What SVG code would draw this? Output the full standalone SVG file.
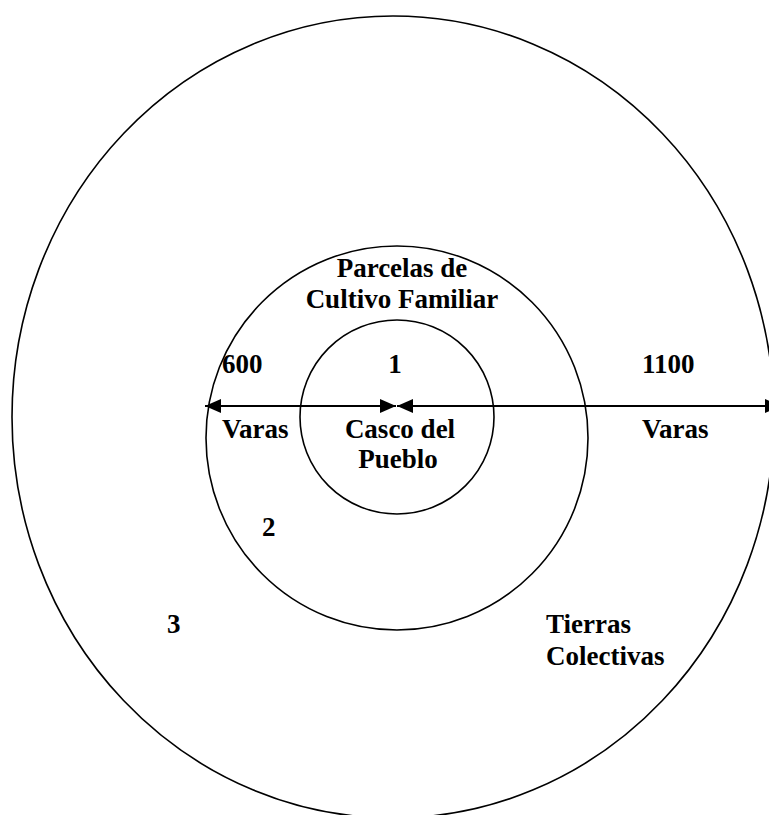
<svg xmlns="http://www.w3.org/2000/svg" width="769" height="815" viewBox="0 0 769 815">
<style>
.ring{fill:none;stroke:#000;stroke-width:1.6}
.t{font-family:"Liberation Serif","Times New Roman",serif;font-weight:bold;font-size:27px;fill:#000}
.c{text-anchor:middle}
.conn{stroke:#000;stroke-width:2;fill:none}
</style>
<defs>
<marker id="ah" viewBox="0 0 16 14" refX="16" refY="7" markerWidth="16" markerHeight="14" markerUnits="userSpaceOnUse" orient="auto-start-reverse">
<path d="M0,0 L16,7 L0,14 Z" fill="#000"/>
</marker>
</defs>
<g id="zone3">
<ellipse class="ring" cx="393" cy="417" rx="381" ry="401"/>
<text class="t" x="167" y="633">3</text>
<text class="t" x="546" y="633">Tierras</text>
<text class="t" x="546" y="665">Colectivas</text>
</g>
<g id="zone2">
<ellipse class="ring" cx="397" cy="438" rx="191" ry="192"/>
<text class="t c" x="402" y="277">Parcelas de</text>
<text class="t c" x="402" y="308">Cultivo Familiar</text>
<text class="t" x="262" y="536">2</text>
</g>
<g id="zone1">
<circle class="ring" cx="397" cy="417" r="97"/>
<text class="t c" x="395" y="373">1</text>
<text class="t c" x="400" y="438">Casco del</text>
<text class="t c" x="398" y="468">Pueblo</text>
</g>
<g id="connectors">
<line class="conn" x1="205" y1="406" x2="396" y2="406" marker-start="url(#ah)" marker-end="url(#ah)"/>
<line class="conn" x1="397" y1="406" x2="781" y2="406" marker-start="url(#ah)" marker-end="url(#ah)"/>
</g>
<g id="labels">
<text class="t" x="222" y="373">600</text>
<text class="t" x="222" y="438">Varas</text>
<text class="t" x="642" y="373">1100</text>
<text class="t" x="642" y="438">Varas</text>
</g>
</svg>
